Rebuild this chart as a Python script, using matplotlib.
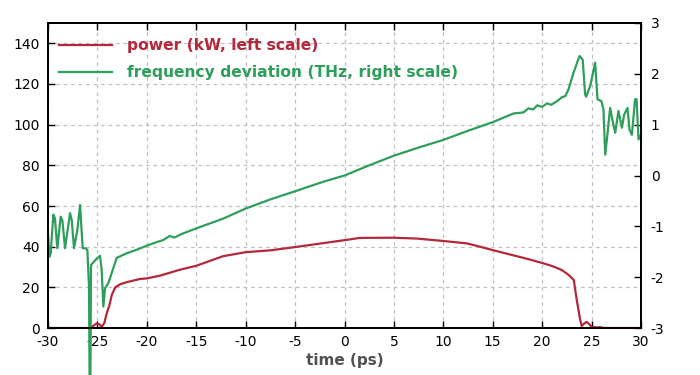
import matplotlib
matplotlib.use("Agg")
import matplotlib.pyplot as plt

# ---- data ----
t_power = [-30, -25.8, -25.5, -25.07, -24.8, -24.57, -24.3, -24.06, -23.8, -23.55,
           -23.2, -22.7, -22.0, -20.7, -20.0, -18.7, -16.7, -15, -12.3, -10,
           -7.5, -5, -2.5, 0.57, 1.5, 5, 7.3, 10, 12.4, 13.7,
           15, 18.1, 20, 21, 22, 22.7, 23.2, 23.5, 23.85, 24.0,
           24.25, 24.5, 24.75, 25.0, 25.5, 25.9, 26.2, 30]
power = [0, 0, 0.8, 2.3, 1.8, 0.6, 2.5, 7.2, 11, 16.2,
         20.0, 21.5, 22.6, 24.1, 24.4, 25.7, 28.6, 30.6, 35.3, 37.3,
         38.2, 39.8, 41.5, 43.6, 44.3, 44.4, 44.0, 42.8, 41.6, 40,
         38.3, 34.5, 32, 30.5, 28.5, 26, 23.6, 13.8, 4, 1,
         2.2, 3, 2, 0.6, 0.3, 0.4, 0, 0]

t_freq = [-30, -29.87, -29.73, -29.46, -29.3, -29.06, -28.72, -28.55, -28.28, -27.77,
          -27.6, -27.37, -27.03, -26.76, -26.49, -26.25, -26.02, -25.85, -25.75, -25.65,
          -25.1, -24.74, -24.57, -24.4, -24.23, -23.9, -23.05, -22.04, -21.02, -20.0,
          -19.0, -18.35, -17.7, -17.2, -16.6, -15, -12.3, -10, -7.5, -5,
          -2.1, 0, 2.5, 5, 7.5, 10, 12.5, 15, 17.1, 18.1,
          18.6, 19.1, 19.5, 20, 20.5, 20.9, 21.5, 22, 22.33, 22.66,
          23.17, 23.78, 24.1, 24.35, 24.45, 24.86, 25.36, 25.6, 26.0, 26.2,
          26.38, 26.55, 26.88, 27.1, 27.39, 27.72, 28.07, 28.3, 28.63, 28.84,
          29.08, 29.4, 29.55, 29.75, 30]
freq = [-1.14, -1.6, -1.53, -0.77, -0.84, -1.43, -0.81, -0.88, -1.43, -0.74,
        -0.88, -1.43, -1.07, -0.58, -1.43, -1.43, -1.46, -2.2, -5.5, -1.76,
        -1.64, -1.58, -1.86, -2.58, -2.22, -2.12, -1.62, -1.53, -1.46, -1.38,
        -1.31, -1.27, -1.19, -1.22, -1.16, -1.04, -0.85, -0.65, -0.47, -0.31,
        -0.12, 0.0, 0.2, 0.39, 0.55, 0.70, 0.88, 1.05, 1.22, 1.24,
        1.32, 1.30, 1.38, 1.35, 1.42, 1.39, 1.46, 1.54, 1.56, 1.69,
        2.02, 2.35, 2.28, 1.59, 1.55, 1.76, 2.22, 1.5, 1.46, 1.3,
        0.41, 0.71, 1.33, 1.1, 0.84, 1.27, 0.94, 1.2, 1.33, 0.9,
        0.8, 1.5, 1.5, 0.71, 0.8]

x_ticks = [-30, -25, -20, -15, -10, -5, 0, 5, 10, 15, 20, 25, 30]
left_ticks = [0, 20, 40, 60, 80, 100, 120, 140]
right_ticks = [-3, -2, -1, 0, 1, 2, 3]

red = "#b4283c"
green = "#2e9e5b"

plt.rcParams['axes.unicode_minus'] = False
plt.rcParams['font.family'] = ['DejaVu Sans']

fig = plt.figure(figsize=(7, 3.75), dpi=100)
ax = fig.add_axes([0.0686, 0.1253, 0.8471, 0.8134])
ax2 = ax.twinx()

ax.set_xlim(-30, 30)
ax.set_ylim(0, 150)
ax2.set_ylim(-3, 3)

ax.grid(True, color="#c0c0c0", linestyle=(0, (3, 3)), linewidth=0.9)
ax.set_axisbelow(True)

lp, = ax.plot(t_power, power, color=red, lw=1.6, label="power (kW, left scale)")
lf, = ax2.plot(t_freq, freq, color=green, lw=1.6, clip_on=False,
               label="frequency deviation (THz, right scale)")

ax.set_xticks(x_ticks)
ax.set_yticks(left_ticks)
ax2.set_yticks(right_ticks)

ax.tick_params(axis='both', direction='in', length=5, width=1, labelsize=10,
               top=True, colors='black')
ax.tick_params(axis='x', pad=5)
ax.tick_params(axis='y', right=False, pad=6)
ax2.tick_params(axis='y', direction='in', length=5, width=1, labelsize=10, pad=7)

for a in (ax, ax2):
    for s in a.spines.values():
        s.set_linewidth(1.3)
        s.set_color("black")

ax.set_xlabel("time (ps)", fontsize=11, fontweight='bold', color="#505050", labelpad=3)

leg = ax.legend([lp, lf], [lp.get_label(), lf.get_label()], loc='upper left',
                frameon=False, prop={'weight': 'bold', 'size': 11.2},
                bbox_to_anchor=(0.0, 0.985), handlelength=3.4, handletextpad=1.0,
                labelspacing=0.75, borderaxespad=0.3)
for txt, c in zip(leg.get_texts(), [red, green]):
    txt.set_color(c)

fig.savefig("out.png", dpi=100, facecolor="white")
